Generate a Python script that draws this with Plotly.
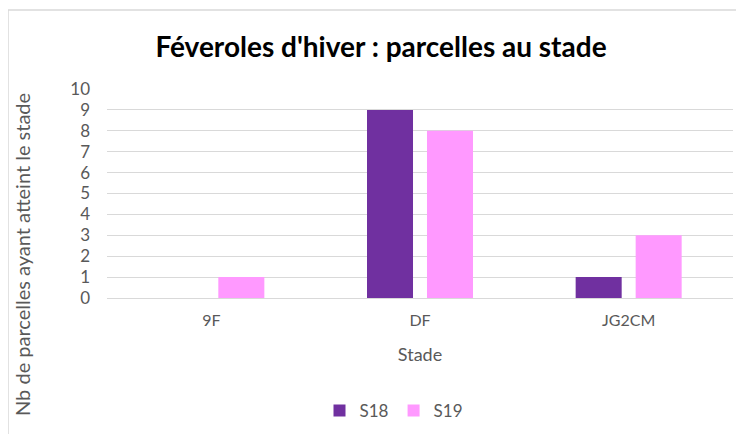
import plotly.graph_objects as go

# data
stades = ["9F", "DF", "JG2CM"]
s18 = [0, 9, 1]
s19 = [1, 8, 3]

W, H = 744, 434
OFF = 8  # page body margin
L, R, T, B = 107 - OFF, 752 - 733, 89 - OFF, 442 - 298
pw, ph = W - L - R, H - T - B

def px_x(x):
    return (x - OFF - L) / pw

def px_y(y):
    return (H - B - (y - OFF)) / ph

fig = go.Figure()
fig.add_trace(go.Bar(x=stades, y=s18, name="S18",
                     marker=dict(color="#7030A0", line=dict(width=0))))
fig.add_trace(go.Bar(x=stades, y=s19, name="S19",
                     marker=dict(color="#FF99FF", line=dict(width=0))))

font = "Lato, 'Open Sans', sans-serif"
fig.update_layout(
    width=W, height=H,
    margin=dict(l=L, r=R, t=T, b=B, autoexpand=False),
    paper_bgcolor="white", plot_bgcolor="white",
    barmode="group", bargap=0.425, bargroupgap=0.233,
    font=dict(family=font, color="#595959", size=16),
    title=dict(text="<b>Féveroles d'hiver : parcelles au stade</b>",
               x=px_x(381), xref="paper", xanchor="center",
               y=1 - (47 - OFF) / H, yanchor="middle",
               font=dict(size=28, color="#000000", family=font)),
    showlegend=True,
    legend=dict(orientation="h", x=px_x(394), xanchor="center",
                y=px_y(411), yanchor="middle", font=dict(size=17, color="#595959"),
                itemwidth=30, tracegroupgap=0),
    xaxis=dict(showgrid=False, showline=True, linecolor="#D9D9D9", linewidth=1,
               ticks="", automargin=False, ticklabelstandoff=8,
               tickfont=dict(size=16, color="#595959"),
               title=dict(text="Stade", font=dict(size=18, color="#595959"), standoff=20)),
    yaxis=dict(range=[0, 10], dtick=1, showgrid=True, gridcolor="#D9D9D9", gridwidth=1,
               zeroline=False, showline=False, ticks="", automargin=False,
               ticklabelstandoff=16,
               tickfont=dict(size=17, color="#595959")),
    shapes=[dict(type="rect", xref="paper", yref="paper",
                 x0=px_x(8), x1=1.2, y0=-1, y1=px_y(10),
                 line=dict(color="#D9D9D9", width=1.5), fillcolor="rgba(0,0,0,0)",
                 layer="below")],
    annotations=[dict(text="Nb de parcelles ayant atteint le stade", textangle=-90,
                      xref="paper", yref="paper", x=px_x(22), y=px_y(255),
                      xanchor="center", yanchor="middle", showarrow=False,
                      font=dict(size=20, color="#595959"))],
)

fig.write_html("out.html")
